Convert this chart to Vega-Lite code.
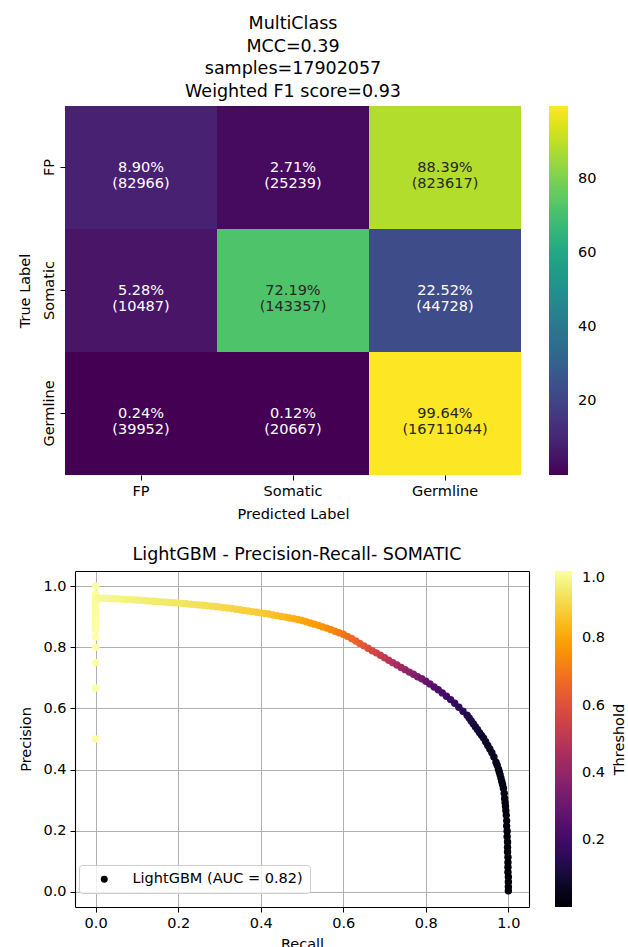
{
  "$schema": "https://vega.github.io/schema/vega-lite/v6.json",
  "background": "white",
  "padding": {"left": 17, "top": 15, "right": 0, "bottom": 0},
  "spacing": 24,
  "resolve": {"scale": {"color": "independent", "shape": "independent"}, "legend": {"color": "independent", "shape": "independent"}},
  "config": {
    "font": "DejaVu Sans",
    "view": {"stroke": null},
    "axis": {"labelFont": "DejaVu Sans", "titleFont": "DejaVu Sans", "labelFontSize": 14.5, "titleFontSize": 14.5, "titleFontWeight": "normal", "labelColor": "black", "titleColor": "black", "tickColor": "black", "tickSize": 5, "domainColor": "black", "domainWidth": 1.1, "minExtent": 0},
    "legend": {"labelFont": "DejaVu Sans", "titleFont": "DejaVu Sans", "labelFontSize": 14.5, "titleFontSize": 14.5, "titleFontWeight": "normal", "labelColor": "black", "titleColor": "black"},
    "title": {"font": "DejaVu Sans", "fontSize": 17.5, "fontWeight": "normal", "color": "black"}
  },
  "vconcat": [
    {
      "width": 456,
      "height": 369,
      "view": {"stroke": null},
      "title": {"text": ["MultiClass", "MCC=0.39", "samples=17902057", "Weighted F1 score=0.93"], "lineHeight": 22.5, "offset": 6},
      "data": {"values": [
        {"true": "FP", "pred": "FP", "pct": 8.90, "label": "8.90%\n(82966)"},
        {"true": "FP", "pred": "Somatic", "pct": 2.71, "label": "2.71%\n(25239)"},
        {"true": "FP", "pred": "Germline", "pct": 88.39, "label": "88.39%\n(823617)"},
        {"true": "Somatic", "pred": "FP", "pct": 5.28, "label": "5.28%\n(10487)"},
        {"true": "Somatic", "pred": "Somatic", "pct": 72.19, "label": "72.19%\n(143357)"},
        {"true": "Somatic", "pred": "Germline", "pct": 22.52, "label": "22.52%\n(44728)"},
        {"true": "Germline", "pred": "FP", "pct": 0.24, "label": "0.24%\n(39952)"},
        {"true": "Germline", "pred": "Somatic", "pct": 0.12, "label": "0.12%\n(20667)"},
        {"true": "Germline", "pred": "Germline", "pct": 99.64, "label": "99.64%\n(16711044)"}
      ]},
      "encoding": {
        "x": {"field": "pred", "type": "nominal", "sort": ["FP", "Somatic", "Germline"], "scale": {"paddingInner": 0, "paddingOuter": 0}, "axis": {"title": "Predicted Label", "labelAngle": 0, "domain": false, "labelPadding": 4, "titlePadding": 10}},
        "y": {"field": "true", "type": "nominal", "sort": ["FP", "Somatic", "Germline"], "scale": {"paddingInner": 0, "paddingOuter": 0}, "axis": {"title": "True Label", "domain": false, "labelAngle": 270, "labelAlign": "center", "labelBaseline": "bottom", "labelPadding": 4, "titlePadding": 9}}
      },
      "layer": [
        {
          "mark": {"type": "rect"},
          "encoding": {
            "color": {"field": "pct", "type": "quantitative", "scale": {"scheme": "viridis"}, "legend": {"title": null, "values": [20, 40, 60, 80], "format": "d", "gradientLength": 369, "gradientThickness": 19, "offset": 28, "labelOffset": 10, "gradientStrokeWidth": 0}}
          }
        },
        {
          "mark": {"type": "text", "fontSize": 14.5, "lineBreak": "\n", "lineHeight": 16.7, "baseline": "middle"},
          "encoding": {
            "text": {"field": "label"},
            "color": {"condition": {"test": "datum.pct > 50", "value": "#262626"}, "value": "white"}
          }
        }
      ]
    },
    {
      "width": 464,
      "height": 336,
      "view": {"stroke": null},
      "title": {"text": "LightGBM - Precision-Recall- SOMATIC", "offset": 8},
      "data": {"values": [
        {"r": 0.0, "p": 1.0, "t": 1.0},
        {"r": 0.0, "p": 0.975, "t": 0.998},
        {"r": 0.0, "p": 0.97, "t": 0.998},
        {"r": 0.0, "p": 0.965, "t": 0.997},
        {"r": 0.0, "p": 0.96, "t": 0.997},
        {"r": 0.0, "p": 0.955, "t": 0.997},
        {"r": 0.0, "p": 0.95, "t": 0.996},
        {"r": 0.0, "p": 0.945, "t": 0.996},
        {"r": 0.0, "p": 0.94, "t": 0.996},
        {"r": 0.0, "p": 0.935, "t": 0.996},
        {"r": 0.0, "p": 0.93, "t": 0.996},
        {"r": 0.0, "p": 0.925, "t": 0.996},
        {"r": 0.0, "p": 0.92, "t": 0.997},
        {"r": 0.0, "p": 0.915, "t": 0.997},
        {"r": 0.0, "p": 0.91, "t": 0.997},
        {"r": 0.0, "p": 0.905, "t": 0.997},
        {"r": 0.0, "p": 0.9, "t": 0.998},
        {"r": 0.0, "p": 0.895, "t": 0.998},
        {"r": 0.0, "p": 0.89, "t": 0.998},
        {"r": 0.0, "p": 0.885, "t": 0.998},
        {"r": 0.0, "p": 0.88, "t": 0.998},
        {"r": 0.0, "p": 0.875, "t": 0.999},
        {"r": 0.0, "p": 0.87, "t": 0.999},
        {"r": 0.0, "p": 0.857, "t": 0.999},
        {"r": 0.0, "p": 0.833, "t": 0.999},
        {"r": 0.0, "p": 0.8, "t": 0.999},
        {"r": 0.0, "p": 0.75, "t": 1.0},
        {"r": 0.0, "p": 0.667, "t": 1.0},
        {"r": 0.0, "p": 0.5, "t": 1.0},
        {"r": 0.003, "p": 0.962, "t": 0.985},
        {"r": 0.01, "p": 0.961, "t": 0.98},
        {"r": 0.02, "p": 0.961, "t": 0.978},
        {"r": 0.03, "p": 0.96, "t": 0.976},
        {"r": 0.04, "p": 0.959, "t": 0.974},
        {"r": 0.05, "p": 0.959, "t": 0.972},
        {"r": 0.06, "p": 0.958, "t": 0.97},
        {"r": 0.07, "p": 0.957, "t": 0.967},
        {"r": 0.08, "p": 0.957, "t": 0.964},
        {"r": 0.09, "p": 0.956, "t": 0.961},
        {"r": 0.10, "p": 0.955, "t": 0.958},
        {"r": 0.11, "p": 0.954, "t": 0.956},
        {"r": 0.12, "p": 0.953, "t": 0.953},
        {"r": 0.13, "p": 0.952, "t": 0.951},
        {"r": 0.14, "p": 0.951, "t": 0.948},
        {"r": 0.15, "p": 0.95, "t": 0.946},
        {"r": 0.16, "p": 0.949, "t": 0.944},
        {"r": 0.17, "p": 0.948, "t": 0.942},
        {"r": 0.18, "p": 0.947, "t": 0.94},
        {"r": 0.19, "p": 0.946, "t": 0.937},
        {"r": 0.20, "p": 0.945, "t": 0.935},
        {"r": 0.21, "p": 0.944, "t": 0.933},
        {"r": 0.22, "p": 0.943, "t": 0.93},
        {"r": 0.23, "p": 0.941, "t": 0.928},
        {"r": 0.24, "p": 0.94, "t": 0.926},
        {"r": 0.25, "p": 0.939, "t": 0.923},
        {"r": 0.26, "p": 0.938, "t": 0.92},
        {"r": 0.27, "p": 0.936, "t": 0.918},
        {"r": 0.28, "p": 0.935, "t": 0.915},
        {"r": 0.29, "p": 0.934, "t": 0.913},
        {"r": 0.30, "p": 0.932, "t": 0.91},
        {"r": 0.31, "p": 0.93, "t": 0.907},
        {"r": 0.32, "p": 0.929, "t": 0.904},
        {"r": 0.33, "p": 0.927, "t": 0.9},
        {"r": 0.34, "p": 0.925, "t": 0.897},
        {"r": 0.35, "p": 0.923, "t": 0.894},
        {"r": 0.36, "p": 0.921, "t": 0.891},
        {"r": 0.37, "p": 0.919, "t": 0.888},
        {"r": 0.38, "p": 0.917, "t": 0.884},
        {"r": 0.39, "p": 0.915, "t": 0.88},
        {"r": 0.40, "p": 0.913, "t": 0.875},
        {"r": 0.41, "p": 0.911, "t": 0.87},
        {"r": 0.42, "p": 0.909, "t": 0.865},
        {"r": 0.43, "p": 0.906, "t": 0.86},
        {"r": 0.44, "p": 0.904, "t": 0.853},
        {"r": 0.45, "p": 0.901, "t": 0.846},
        {"r": 0.46, "p": 0.899, "t": 0.838},
        {"r": 0.47, "p": 0.896, "t": 0.83},
        {"r": 0.48, "p": 0.894, "t": 0.822},
        {"r": 0.49, "p": 0.891, "t": 0.813},
        {"r": 0.50, "p": 0.888, "t": 0.805},
        {"r": 0.51, "p": 0.884, "t": 0.797},
        {"r": 0.52, "p": 0.88, "t": 0.79},
        {"r": 0.53, "p": 0.876, "t": 0.782},
        {"r": 0.54, "p": 0.872, "t": 0.775},
        {"r": 0.55, "p": 0.867, "t": 0.767},
        {"r": 0.56, "p": 0.863, "t": 0.757},
        {"r": 0.57, "p": 0.858, "t": 0.745},
        {"r": 0.58, "p": 0.853, "t": 0.732},
        {"r": 0.59, "p": 0.848, "t": 0.718},
        {"r": 0.60, "p": 0.843, "t": 0.703},
        {"r": 0.61, "p": 0.836, "t": 0.688},
        {"r": 0.62, "p": 0.829, "t": 0.672},
        {"r": 0.63, "p": 0.821, "t": 0.655},
        {"r": 0.64, "p": 0.813, "t": 0.637},
        {"r": 0.65, "p": 0.805, "t": 0.618},
        {"r": 0.66, "p": 0.797, "t": 0.598},
        {"r": 0.67, "p": 0.789, "t": 0.578},
        {"r": 0.68, "p": 0.782, "t": 0.558},
        {"r": 0.69, "p": 0.774, "t": 0.538},
        {"r": 0.70, "p": 0.766, "t": 0.518},
        {"r": 0.71, "p": 0.758, "t": 0.497},
        {"r": 0.72, "p": 0.75, "t": 0.475},
        {"r": 0.73, "p": 0.742, "t": 0.453},
        {"r": 0.74, "p": 0.734, "t": 0.432},
        {"r": 0.75, "p": 0.727, "t": 0.41},
        {"r": 0.76, "p": 0.719, "t": 0.388},
        {"r": 0.77, "p": 0.712, "t": 0.366},
        {"r": 0.78, "p": 0.704, "t": 0.344},
        {"r": 0.79, "p": 0.697, "t": 0.322},
        {"r": 0.80, "p": 0.689, "t": 0.3},
        {"r": 0.81, "p": 0.68, "t": 0.279},
        {"r": 0.82, "p": 0.67, "t": 0.258},
        {"r": 0.83, "p": 0.661, "t": 0.238},
        {"r": 0.84, "p": 0.651, "t": 0.219},
        {"r": 0.85, "p": 0.64, "t": 0.2},
        {"r": 0.86, "p": 0.629, "t": 0.185},
        {"r": 0.87, "p": 0.617, "t": 0.17},
        {"r": 0.88, "p": 0.604, "t": 0.156},
        {"r": 0.89, "p": 0.591, "t": 0.143},
        {"r": 0.90, "p": 0.578, "t": 0.13},
        {"r": 0.905, "p": 0.569, "t": 0.122},
        {"r": 0.91, "p": 0.559, "t": 0.115},
        {"r": 0.915, "p": 0.55, "t": 0.108},
        {"r": 0.92, "p": 0.54, "t": 0.102},
        {"r": 0.925, "p": 0.531, "t": 0.096},
        {"r": 0.93, "p": 0.521, "t": 0.09},
        {"r": 0.935, "p": 0.512, "t": 0.085},
        {"r": 0.94, "p": 0.503, "t": 0.08},
        {"r": 0.945, "p": 0.491, "t": 0.075},
        {"r": 0.95, "p": 0.479, "t": 0.07},
        {"r": 0.955, "p": 0.467, "t": 0.065},
        {"r": 0.96, "p": 0.455, "t": 0.06},
        {"r": 0.965, "p": 0.441, "t": 0.056},
        {"r": 0.97, "p": 0.424, "t": 0.052},
        {"r": 0.973, "p": 0.414, "t": 0.05},
        {"r": 0.976, "p": 0.401, "t": 0.047},
        {"r": 0.978, "p": 0.392, "t": 0.045},
        {"r": 0.98, "p": 0.383, "t": 0.043},
        {"r": 0.982, "p": 0.372, "t": 0.041},
        {"r": 0.984, "p": 0.361, "t": 0.039},
        {"r": 0.986, "p": 0.351, "t": 0.037},
        {"r": 0.988, "p": 0.339, "t": 0.035},
        {"r": 0.99, "p": 0.322, "t": 0.032},
        {"r": 0.991, "p": 0.305, "t": 0.03},
        {"r": 0.992, "p": 0.292, "t": 0.028},
        {"r": 0.993, "p": 0.28, "t": 0.026},
        {"r": 0.994, "p": 0.265, "t": 0.024},
        {"r": 0.995, "p": 0.25, "t": 0.022},
        {"r": 0.996, "p": 0.232, "t": 0.02},
        {"r": 0.996, "p": 0.215, "t": 0.018},
        {"r": 0.997, "p": 0.198, "t": 0.016},
        {"r": 0.997, "p": 0.18, "t": 0.014},
        {"r": 0.998, "p": 0.163, "t": 0.012},
        {"r": 0.998, "p": 0.146, "t": 0.011},
        {"r": 0.998, "p": 0.13, "t": 0.01},
        {"r": 0.999, "p": 0.113, "t": 0.009},
        {"r": 0.999, "p": 0.096, "t": 0.008},
        {"r": 0.999, "p": 0.08, "t": 0.007},
        {"r": 0.999, "p": 0.064, "t": 0.006},
        {"r": 1.0, "p": 0.048, "t": 0.005},
        {"r": 1.0, "p": 0.032, "t": 0.004},
        {"r": 1.0, "p": 0.016, "t": 0.003},
        {"r": 1.0, "p": 0.003, "t": 0.002}
      ]},
      "layer": [
        {
          "mark": {"type": "point", "filled": true, "size": 55, "opacity": 1, "strokeWidth": 0},
          "encoding": {
            "x": {"field": "r", "type": "quantitative", "scale": {"domain": [-0.05, 1.05], "nice": false, "zero": false, "range": [10, 464]}, "axis": {"title": "Recall", "values": [0, 0.2, 0.4, 0.6, 0.8, 1.0], "format": ".1f", "grid": true, "gridColor": "#b0b0b0", "domain": true, "labelPadding": 4, "titlePadding": 8}},
            "y": {"field": "p", "type": "quantitative", "scale": {"domain": [-0.05, 1.05], "nice": false, "zero": false}, "axis": {"title": "Precision", "values": [0, 0.2, 0.4, 0.6, 0.8, 1.0], "format": ".1f", "grid": true, "gridColor": "#b0b0b0", "domain": true, "offset": -10, "labelPadding": 4, "titlePadding": 9}},
            "color": {"field": "t", "type": "quantitative", "scale": {"scheme": "inferno"}, "legend": {"title": null, "values": [0.2, 0.4, 0.6, 0.8, 1.0], "format": ".1f", "gradientLength": 336, "gradientThickness": 17, "offset": -71, "labelOffset": 10, "gradientStrokeWidth": 0}},
            "shape": {"datum": "LightGBM (AUC = 0.82)", "scale": {"range": ["circle"]}, "legend": {"title": null, "orient": "bottom-left", "offset": 14, "padding": 7, "strokeColor": "#cccccc", "fillColor": "rgba(255,255,255,0.8)", "cornerRadius": 3, "symbolFillColor": "black", "symbolStrokeColor": "black", "symbolSize": 30, "symbolOpacity": 1, "symbolOffset": 11, "labelOffset": 21, "labelLimit": 400}}
          }
        },
        {
          "mark": {"type": "point", "opacity": 0},
          "encoding": {
            "x": {"field": "r", "type": "quantitative", "axis": {"orient": "top", "title": null, "labels": false, "ticks": false, "grid": false, "domain": true}},
            "y": {"field": "p", "type": "quantitative", "axis": {"orient": "right", "title": "Threshold", "titleAngle": 270, "titleBaseline": "top", "titlePadding": 83, "labels": false, "ticks": false, "grid": false, "domain": true}}
          }
        }
      ],
      "resolve": {"axis": {"x": "independent", "y": "independent"}}
    }
  ]
}
